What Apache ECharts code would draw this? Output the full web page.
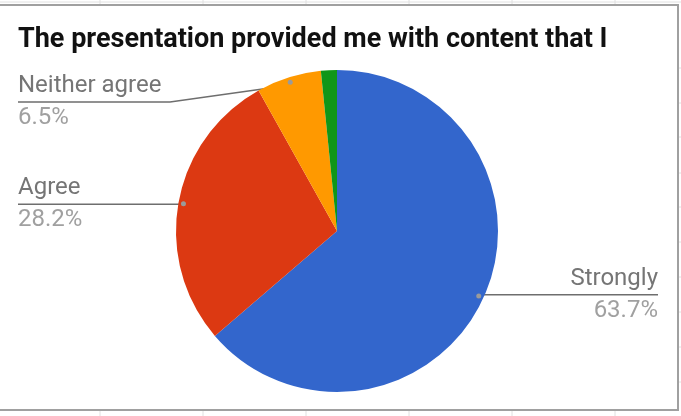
<!DOCTYPE html>
<html><head><meta charset="utf-8">
<script src="https://cdn.jsdelivr.net/npm/echarts@6/dist/echarts.min.js"></script>
<style>html,body{margin:0;padding:0;background:#fff}#c{width:681px;height:416px}</style>
</head><body><div id="c"></div>
<script>
// ---- data ----
const chartTitle = 'The presentation provided me with content that I';
const categories = ['Strongly', 'Agree', 'Neither agree', 'Disagree'];
const values = [63.7, 28.2, 6.5, 1.6];
const colors = ['#3366cc', '#dc3912', '#ff9900', '#109618'];
const labelShown = [true, true, true, false];

// ---- layout settings ----
const CX = 337, CY = 231, R = 161, TOP = 73;
const FONT = 'Roboto, "Noto Sans", sans-serif';

const chart = echarts.init(document.getElementById('c'), null, {renderer: 'canvas'});

const mainData = categories.map((c, i) => ({
  name: c, value: values[i],
  itemStyle: {color: colors[i]},
  label: {show: labelShown[i]},
  labelLine: {show: labelShown[i]}
}));
const dotData = categories.map((c, i) => ({
  name: c, value: values[i],
  label: {show: labelShown[i]}
}));

// decorative spreadsheet grid around the chart frame
const colX = [100, 203, 306, 409, 512, 615];
const rowY = [68, 103, 137, 173, 207, 242, 277, 312, 347, 382];
const deco = [];
deco.push({type: 'line', shape: {x1: 0, y1: 2, x2: 681, y2: 2}, style: {stroke: '#e0e0e0', lineWidth: 1}, z: -10});
colX.forEach(x => {
  deco.push({type: 'line', shape: {x1: x, y1: 0, x2: x, y2: 5}, style: {stroke: '#e0e0e0', lineWidth: 1}, z: -10});
  deco.push({type: 'line', shape: {x1: x, y1: 411, x2: x, y2: 416}, style: {stroke: '#e0e0e0', lineWidth: 1}, z: -10});
});
rowY.forEach(y => {
  deco.push({type: 'line', shape: {x1: 679, y1: y, x2: 681, y2: y}, style: {stroke: '#e0e0e0', lineWidth: 1}, z: -10});
});
deco.push({type: 'rect', shape: {x: -3, y: 5, width: 681, height: 405}, style: {fill: '#fff', stroke: '#a0a0a0', lineWidth: 2}, z: -9});

chart.setOption({
  animation: false,
  backgroundColor: '#fff',
  graphic: deco,
  title: {
    text: chartTitle, left: 18, top: 27, padding: 0,
    textStyle: {fontFamily: FONT, fontWeight: 'bold', fontSize: 27, color: '#111'}
  },
  series: [{
    type: 'pie',
    left: 0, right: 5, top: TOP, bottom: 0,
    center: [CX, CY - TOP],
    radius: R,
    startAngle: 90, clockwise: true,
    avoidLabelOverlap: true,
    data: mainData,
    itemStyle: {borderWidth: 0},
    label: {
      show: true, alignTo: 'edge', edgeDistance: 18,
      formatter: p => '{n|' + p.name + '}\n{v|' + p.value + '%}',
      rich: {
        n: {fontFamily: FONT, fontSize: 24, color: '#757575', lineHeight: 32},
        v: {fontFamily: FONT, fontSize: 24, color: '#a0a0a0', lineHeight: 32}
      }
    },
    labelLine: {show: true, length: -8, length2: 0, lineStyle: {color: '#6e6e6e', width: 1.5}},
    labelLayout: function (params) {
      const pts = params.labelLinePoints;
      if (!pts) return {};
      const dx = (pts[0][0] - CX) / R, dy = (pts[0][1] - CY) / R;
      const dot = [CX + dx * R * 0.95, CY + dy * R * 0.95];
      const isLeft = dx < 0;
      const ly = pts[2][1];
      const bendX = CX + (isLeft ? -1 : 1) * (R + 6);
      const endX = isLeft ? params.labelRect.x : params.labelRect.x + params.labelRect.width;
      return {labelLinePoints: [dot, [bendX, ly], [endX, ly]]};
    },
    emphasis: {disabled: true}
  }, {
    type: 'pie',
    left: 0, right: 5, top: TOP, bottom: 0,
    center: [CX, CY - TOP],
    radius: [R * 0.9, R],
    startAngle: 90, clockwise: true,
    silent: true, z: 5,
    avoidLabelOverlap: false,
    data: dotData,
    itemStyle: {color: 'rgba(0,0,0,0)'},
    label: {
      show: true, position: 'inside',
      formatter: '{d|\u00a0}',
      rich: {d: {width: 5, height: 5, borderRadius: 2.5, backgroundColor: '#9a9a9a', fontSize: 1, lineHeight: 5}}
    },
    labelLine: {show: false},
    emphasis: {disabled: true}
  }]
});
</script></body></html>
